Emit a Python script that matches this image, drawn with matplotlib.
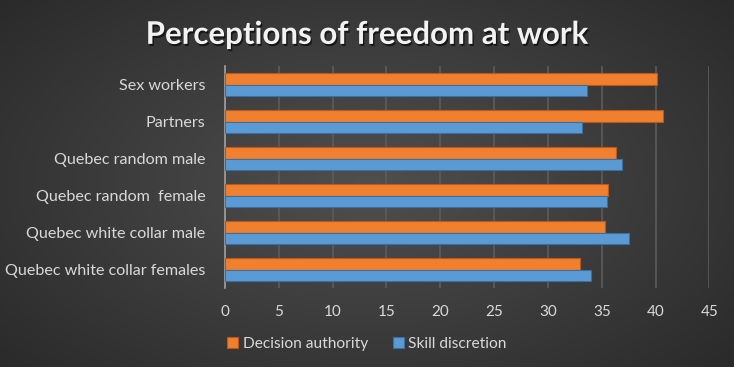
import numpy as np
import matplotlib
matplotlib.use("Agg")
import matplotlib.pyplot as plt
import matplotlib.patheffects as pe

# categories listed bottom to top (as Excel draws them)
categories = ["Quebec white collar females", "Quebec white collar male",
              "Quebec random  female", "Quebec random male",
              "Partners", "Sex workers"]
decision_authority = [33.0, 35.3, 35.6, 36.3, 40.7, 40.1]
skill_discretion = [34.0, 37.5, 35.5, 36.9, 33.2, 33.6]
xticks = [0, 5, 10, 15, 20, 25, 30, 35, 40, 45]

plt.rcParams['font.family'] = ['Lato', 'DejaVu Sans']
txt = '#d9d9d9'

fig = plt.figure(figsize=(7.34, 3.67), dpi=100)

# radial-ish dark background
bg = fig.add_axes([0, 0, 1, 1])
yy, xx = np.mgrid[-1:1:367j, -1:1:734j]
r = np.sqrt((xx * 0.9) ** 2 + (yy * 0.8) ** 2)
shade = 0.31 - 0.12 * r
bg.imshow(np.dstack([shade] * 3).clip(0, 1), aspect='auto', extent=[0, 1, 0, 1])
bg.set_axis_off()

ax = fig.add_axes([0.3065, 0.215, 0.66, 0.605])
ax.set_facecolor('none')

y = np.arange(len(categories))
h = 0.32
ax.barh(y + h / 2, decision_authority, height=h, color='#f07f2e',
        edgecolor='#b85a1c', linewidth=0.8, label='Decision authority', zorder=3)
ax.barh(y - h / 2, skill_discretion, height=h, color='#5b9bd5',
        edgecolor='#3b6f9e', linewidth=0.8, label='Skill discretion', zorder=3)

ax.set_xlim(0, 45)
ax.set_ylim(-0.5, len(categories) - 0.5)
ax.set_xticks(xticks)
ax.set_yticks(y)
ax.set_yticklabels(categories)
ax.tick_params(axis='both', colors=txt, length=0)
ax.tick_params(axis='x', labelsize=11, pad=12)
ax.tick_params(axis='y', labelsize=11.6, pad=14)
ax.grid(axis='x', color='#5c5c5c', linewidth=1.2, zorder=0)
for s in ['top', 'right', 'bottom']:
    ax.spines[s].set_visible(False)
ax.spines['left'].set_color('#a0a0a0')
ax.spines['left'].set_linewidth(1.2)

fig.text(0.5, 0.905, 'Perceptions of freedom at work', ha='center', va='center',
         color='#f2f2f2', fontsize=22.5, fontweight='bold',
         path_effects=[pe.withSimplePatchShadow(offset=(1, -1.5), shadow_rgbFace='black', alpha=0.6)])

leg = fig.legend(loc='center', bbox_to_anchor=(0.5, 0.062), ncol=2, frameon=False,
                 fontsize=11.2, handlelength=0.7, handleheight=0.7, handletextpad=0.3,
                 columnspacing=1.6)
for t in leg.get_texts():
    t.set_color(txt)

fig.savefig('out.png', dpi=100)
